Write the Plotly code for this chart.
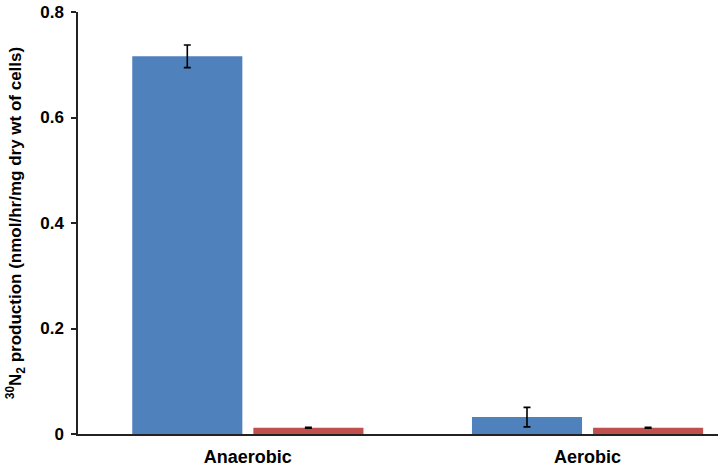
import plotly.graph_objects as go

categories = ["Anaerobic", "Aerobic"]
series1_values = [0.716, 0.032]
series1_errors = [0.0215, 0.0185]
series2_values = [0.012, 0.012]
series2_errors = [0.0008, 0.0008]
y_ticks = [0, 0.2, 0.4, 0.6, 0.8]
y_ticktext = ["0", "0.2", "0.4", "0.6", "0.8"]

font_family = "Liberation Sans, Arial, sans-serif"

fig = go.Figure()
fig.add_trace(go.Bar(
    x=categories,
    y=series1_values,
    marker={"color": "#4F81BD", "line": {"width": 0}},
    error_y={"type": "data", "array": series1_errors, "color": "black",
             "thickness": 1.6, "width": 3.5},
))
fig.add_trace(go.Bar(
    x=categories,
    y=series2_values,
    marker={"color": "#C0504D", "line": {"width": 0}},
    error_y={"type": "data", "array": series2_errors, "color": "black",
             "thickness": 1.6, "width": 3.5},
))

fig.update_layout(
    width=720,
    height=467,
    margin={"l": 78, "r": 2, "t": 12, "b": 33},
    paper_bgcolor="white",
    plot_bgcolor="white",
    showlegend=False,
    barmode="group",
    bargap=0.287,
    bargroupgap=0.091,
    font={"family": font_family, "color": "black"},
)
fig.update_xaxes(
    range=[-0.5, 1.384],
    automargin=False,
    showline=True,
    linecolor="#222222",
    linewidth=1.5,
    ticks="",
    ticklabelstandoff=6,
    showgrid=False,
    tickfont={"size": 18, "family": font_family, "weight": "bold"},
)
fig.update_yaxes(
    range=[0, 0.8],
    automargin=False,
    tickvals=y_ticks,
    ticktext=y_ticktext,
    showline=True,
    linecolor="#222222",
    linewidth=1.5,
    ticks="outside",
    ticklen=5,
    tickwidth=1.5,
    tickcolor="#222222",
    ticklabelstandoff=4,
    showgrid=False,
    zeroline=False,
    tickfont={"size": 17, "family": font_family, "weight": "bold"},
    title={
        "text": "<sup>30</sup>N<sub>2</sub> production (nmol/hr/mg dry wt of cells)",
        "font": {"size": 17, "family": font_family, "weight": "bold"},
        "standoff": 14,
    },
)

# drop the page's default 8px body margin so the figure sits at the window corner
fig.write_html("out.html", config={"displayModeBar": False},
               post_script="document.body.style.margin = '0';")
